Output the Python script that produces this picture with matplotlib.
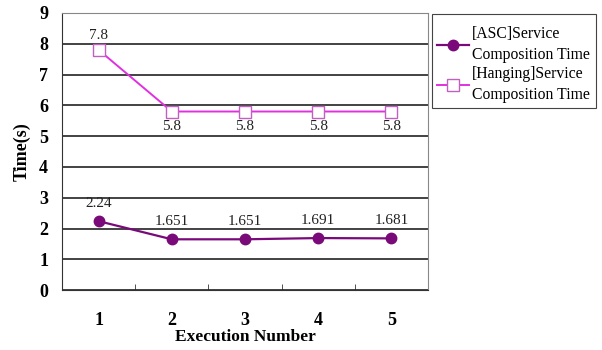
import matplotlib
matplotlib.use("Agg")
import matplotlib.pyplot as plt
from matplotlib.patches import Rectangle

runs = [1, 2, 3, 4, 5]
asc_time = [2.24, 1.651, 1.651, 1.691, 1.681]
hanging_time = [7.8, 5.8, 5.8, 5.8, 5.8]
asc_labels = ["2.24", "1.651", "1.651", "1.691", "1.681"]
hanging_labels = ["7.8", "5.8", "5.8", "5.8", "5.8"]
series_names = ["[ASC]Service\nComposition Time", "[Hanging]Service\nComposition Time"]

serif = ["Liberation Serif", "DejaVu Serif"]

fig = plt.figure(figsize=(6.02, 3.5), dpi=100)
ax = fig.add_axes([0.103, 0.171, 0.608, 0.792])

asc_color = "#7a0a7a"
hang_color = "#e030e0"

ax.plot(runs, asc_time, color=asc_color, lw=1.6, marker="o", ms=7.5,
        mfc=asc_color, mec=asc_color, label=series_names[0], zorder=3)
ax.plot(runs, hanging_time, color=hang_color, lw=1.4, marker="s", ms=8,
        mfc="white", mec="#c060c0", mew=1.0, label=series_names[1], zorder=3)

lbl_kw = dict(textcoords="offset points", ha="center", fontsize=11,
              family=serif, color="#222222")
for x, y, t in zip(runs, asc_time, asc_labels):
    ax.annotate(t, (x, y), xytext=(0, 8), va="bottom", **lbl_kw)
for i, (x, y, t) in enumerate(zip(runs, hanging_time, hanging_labels)):
    if i == 0:
        ax.annotate(t, (x, y), xytext=(0, 6), va="bottom", **lbl_kw)
    else:
        ax.annotate(t, (x, y), xytext=(0, -6), va="top", **lbl_kw)

ax.set_xlim(0.5, 5.5)
ax.set_ylim(0, 9)
ax.set_yticks(range(0, 10))
ax.set_yticklabels([str(v) for v in range(0, 10)], fontsize=13, fontweight="bold", family=serif)
ax.yaxis.grid(True, color="#222222", lw=1.2)
ax.set_axisbelow(True)

ax.set_xticks(runs)
ax.set_xticklabels([str(r) for r in runs], fontsize=13, fontweight="bold", family=serif)
ax.tick_params(axis="x", length=0, pad=16)
ax.set_xticks([1.5, 2.5, 3.5, 4.5], minor=True)
ax.tick_params(axis="x", which="minor", direction="in", length=4, color="#333333")
ax.tick_params(axis="y", length=0, pad=10)

for side in ["left", "bottom"]:
    ax.spines[side].set_color("#333333")
for side in ["top", "right"]:
    ax.spines[side].set_color("#888888")
    ax.spines[side].set_linewidth(0.8)

ax.set_xlabel("Execution Number", fontsize=12.5, fontweight="bold", family=serif, labelpad=0)
ax.set_ylabel("Time(s)", fontsize=13, fontweight="bold", family=serif, labelpad=6)

# Legend entries without their own frame; a separate box encloses them
leg = fig.legend(loc="upper left", bbox_to_anchor=(0.7185, 0.938), frameon=False,
                 prop={"family": serif, "size": 11.3},
                 handlelength=2.0, borderpad=0.3, labelspacing=0.2, handletextpad=0.2,
                 borderaxespad=0)
for txt in leg.get_texts():
    txt.set_linespacing(1.38)

fig.patches.append(Rectangle((0.7176, 0.6914), 0.2724, 0.2686, transform=fig.transFigure,
                             fill=False, edgecolor="#444444", lw=0.8))

fig.savefig("out.png", dpi=100)
